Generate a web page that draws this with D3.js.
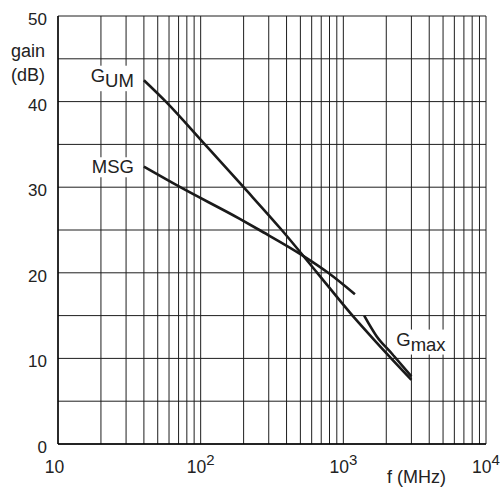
<!DOCTYPE html>
<html><head><meta charset="utf-8">
<script src="https://cdn.jsdelivr.net/npm/d3@7"></script>
<style>
body{margin:0;background:#fff}
text{font-family:"Liberation Sans",Arial,Helvetica,sans-serif;fill:#222}
</style>
</head><body>
<svg id="c" width="500" height="492"></svg>
<script>
// ---- data ----
const gumF  = [40, 57, 107, 200, 370, 656, 1160, 1680, 3000];
const gumG  = [42.5, 40, 35, 30, 25, 20, 15, 12, 7.5];
const msgF  = [40, 72, 188, 258, 510, 783, 1206];
const msgG  = [32.4, 30, 26.3, 25, 22.1, 20, 17.5];
const gmaxF = [1400, 1710, 2178, 3000];
const gmaxG = [15, 12.6, 10.6, 7.9];
const yTickLabels = [0, 10, 20, 30, 40, 50];
const yGridValues = [0, 5, 10, 15, 20, 25, 30, 35, 40, 45, 50];
const xTickValues = [10, 100, 1000, 10000];
const xTickExps   = ["", "2", "3", "4"];

const svg = d3.select("#c");
const L = 58, R = 486, T = 16, B = 444;
const x = d3.scaleLog().domain([10, 10000]).range([L, R]);
const y = d3.scaleLinear().domain([0, 50]).range([B, T]);

// grid
const xGrid = [];
for (let d = 10; d < 10000; d *= 10) for (let k = 1; k <= 10; k++) xGrid.push(d * k);
const g = svg.append("g");
g.selectAll(".vx").data(Array.from(new Set(xGrid))).enter().append("line")
  .attr("x1", d => x(d)).attr("x2", d => x(d)).attr("y1", T).attr("y2", B)
  .attr("stroke", "#1e1e1e").attr("stroke-width", 1);
g.selectAll(".hy").data(yGridValues).enter().append("line")
  .attr("x1", L).attr("x2", R).attr("y1", d => y(d)).attr("y2", d => y(d))
  .attr("stroke", "#1e1e1e").attr("stroke-width", 1);
// axis lines
svg.append("line").attr("x1", L).attr("x2", R).attr("y1", B).attr("y2", B).attr("stroke", "#000").attr("stroke-width", 1.4);
svg.append("line").attr("x1", L).attr("x2", L).attr("y1", T).attr("y2", B).attr("stroke", "#000").attr("stroke-width", 1.4);

// y tick labels
svg.selectAll(".yl").data(yTickLabels).enter().append("text")
  .attr("x", 47).attr("y", d => y(d) + 9).attr("text-anchor", "end")
  .style("font-size", "17px").text(d => d);

// x tick labels
xTickValues.forEach((v, i) => {
  const t = svg.append("text").attr("y", 473).attr("text-anchor", "middle")
    .style("font-size", "17.5px");
  t.append("tspan").text("10");
  if (xTickExps[i]) {
    t.attr("x", x(v));
    t.append("tspan").attr("dy", -8).style("font-size", "15px").text(xTickExps[i]);
  } else {
    t.attr("x", x(v) - 3.5);
  }
});

// axis titles
svg.append("text").attr("x", 45).attr("y", 57).attr("text-anchor", "end").style("font-size", "18px").text("gain");
svg.append("text").attr("x", 45).attr("y", 81).attr("text-anchor", "end").style("font-size", "18px").text("(dB)");
svg.append("text").attr("x", 387).attr("y", 483).style("font-size", "18px").text("f (MHz)");

// curves
const line = d3.line().x(d => x(d[0])).y(d => y(d[1])).curve(d3.curveMonotoneX);
const series = [
  d3.zip(gumF, gumG),
  d3.zip(msgF, msgG),
  d3.zip(gmaxF, gmaxG)
];
svg.selectAll(".curve").data(series).enter().append("path")
  .attr("d", line).attr("fill", "none").attr("stroke", "#1a1a1a")
  .attr("stroke-width", 2.6).attr("stroke-linecap", "butt");

// curve labels with white backgrounds
function label(xp, yp, main, sub, anchor, subDy) {
  const grp = svg.append("g");
  const t = grp.append("text").attr("x", xp).attr("y", yp)
    .attr("text-anchor", anchor).style("font-size", "18.5px");
  t.append("tspan").text(main);
  if (sub) t.append("tspan").attr("dy", subDy).text(sub);
  const bb = t.node().getBBox();
  grp.insert("rect", "text").attr("x", bb.x - 2).attr("y", bb.y + 1)
    .attr("width", bb.width + 4).attr("height", bb.height - 1).attr("fill", "#fff");
}
label(x(gumF[0]) - 10, y(gumG[0]) + 1.5, "G", "UM", "end", 5.5);
label(x(msgF[0]) - 10, y(msgG[0]) + 6.6, "MSG", "", "end", 0);
label(x(2000) + 10, y(11.5), "G", "max", "start", 5);
</script>
</body></html>
